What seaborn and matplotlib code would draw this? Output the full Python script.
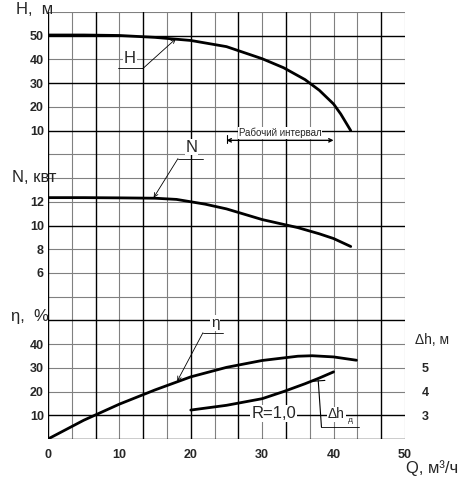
import seaborn as sns
import matplotlib.pyplot as plt

sns.set_theme(style="white")
plt.rcParams['font.family'] = ['Liberation Sans', 'DejaVu Sans']

# head H(Q), m
q_h = [0, 5, 10, 15, 20, 25, 30, 33, 36, 38, 40, 41, 42.4]
head = [50.3, 50.3, 50.1, 49.3, 48.0, 45.4, 40.3, 36.5, 31.5, 27.0, 21.2, 17.0, 10.0]

# power N(Q), kW
q_n = [0, 5, 10, 15, 18, 20, 22, 25, 30, 35, 38, 40, 42.4]
power = [12.35, 12.35, 12.33, 12.3, 12.2, 12.0, 11.8, 11.4, 10.5, 9.82, 9.3, 8.9, 8.23]

# efficiency, %
q_eta = [0, 5, 10, 15, 20, 25, 30, 35, 37, 40, 43.2]
eta = [0, 7.9, 14.7, 20.7, 26.2, 30.2, 33.1, 34.9, 35.1, 34.6, 33.2]

# NPSH dh, m
q_dh = [20, 25, 30, 33, 36, 38, 40]
dh = [3.22, 3.42, 3.7, 4.0, 4.33, 4.57, 4.83]

q_ticks = [0, 10, 20, 30, 40, 50]
h_ticks = [10, 20, 30, 40, 50]
n_ticks = [6, 8, 10, 12]
eta_ticks = [10, 20, 30, 40]
dh_ticks = [3, 4, 5]

W, H = 466, 482
fig = plt.figure(figsize=(W / 100, H / 100), dpi=100)
ax = fig.add_axes([48 / W, 1 - 439 / H, 357 / W, 427 / H])
ax_n = ax.twinx()
ax_eta = ax.twinx()
ax_dh = ax.twinx()

ax.set_xlim(0, 50)
ax.set_ylim(-120, 60)
ax_n.set_ylim(-8, 28)
ax_eta.set_ylim(0, 180)
ax_dh.set_ylim(2, 20)

# square grid 15 x 18 cells, some lines darker
thick_h = {1, 3, 5, 9, 13, 17, 18}
for i in range(19):
    if i in thick_h:
        ax.axhline(60 - 10 * i, color="black", lw=1.0, zorder=0.5)
    else:
        ax.axhline(60 - 10 * i, color="#808080", lw=0.8, zorder=0.4)
thick_v = {0, 2, 4, 6, 8, 10, 14}
for k in range(16):
    if k in thick_v:
        ax.axvline(10 * k / 3, color="black", lw=1.0, zorder=0.5)
    else:
        ax.axvline(10 * k / 3, color="#808080", lw=0.8, zorder=0.4)

for a in [ax, ax_n, ax_eta, ax_dh]:
    for s in a.spines.values():
        s.set_visible(False)
    a.grid(False)

# curves
sns.lineplot(x=q_h, y=head, ax=ax, color="black", lw=2, estimator=None, sort=False)
sns.lineplot(x=q_n, y=power, ax=ax_n, color="black", lw=2, estimator=None, sort=False)
sns.lineplot(x=q_eta, y=eta, ax=ax_eta, color="black", lw=2, estimator=None, sort=False)
sns.lineplot(x=q_dh, y=dh, ax=ax_dh, color="black", lw=2, estimator=None, sort=False)

# ticks
ax.set_xticks(q_ticks)
ax.tick_params(axis="x", length=0, pad=7, labelsize=9)
ax.set_yticks(h_ticks)
ax.tick_params(axis="y", length=0, pad=3, labelsize=9)
for a, t in [(ax_n, n_ticks), (ax_eta, eta_ticks)]:
    a.yaxis.tick_left()
    a.set_yticks(t)
    a.tick_params(axis="y", length=0, pad=3, labelsize=9)
ax_dh.set_yticks(dh_ticks)
ax_dh.tick_params(axis="y", length=0, pad=12, labelsize=9)
for a in [ax, ax_n, ax_eta, ax_dh]:
    for lbl in a.get_xticklabels() + a.get_yticklabels():
        lbl.set_fontweight("bold")
ax.set_xlabel("")
for a in [ax, ax_n, ax_eta, ax_dh]:
    a.set_ylabel("")

# axis titles
def ftext(x, y, s, size):
    fig.text(x / W, 1 - y / H, s, fontsize=size, ha="center", va="center")

ftext(35, 9, "H,  м", 12)
ftext(34, 177, "N, квт", 12)
ftext(30, 317, "η,  %", 12)
ftext(432, 468, "Q, м³/ч", 12)
ftext(432, 340, "Δh, м", 10)

box = dict(fc="white", ec="none", pad=0.5)
thin = dict(arrowstyle="->", lw=0.6, color="black", shrinkA=0, shrinkB=0, mutation_scale=7)

# curve labels with leaders
ax.text(11.5, 40.4, "H", fontsize=12, ha="center", va="center", bbox=box)
ax.plot([9.8, 13.3], [36.2, 36.2], color="black", lw=0.6)
ax.annotate("", xy=(17.9, 48.7), xytext=(13.3, 36.2), arrowprops=thin)

ax_n.text(20.1, 16.6, "N", fontsize=12, ha="center", va="center", bbox=box)
ax_n.plot([18.2, 21.7], [15.64, 15.64], color="black", lw=0.6)
ax_n.annotate("", xy=(14.8, 12.35), xytext=(18.2, 15.64), arrowprops=thin)

ax_eta.text(23.4, 48.8, "η", fontsize=11, ha="center", va="center", bbox=box)
ax_eta.plot([21.7, 24.5], [44.8, 44.8], color="black", lw=0.6)
ax_eta.annotate("", xy=(18.1, 24.4), xytext=(21.7, 44.8), arrowprops=thin)

ax_dh.text(40.4, 3.04, "Δh", fontsize=10, ha="center", va="center", bbox=box)
ax_dh.text(42.4, 2.8, "д", fontsize=6, ha="center", va="center")
ax_dh.plot([38.3, 43.5], [2.5, 2.5], color="black", lw=0.6)
ax_dh.annotate("", xy=(37.85, 4.45), xytext=(38.3, 2.5),
               arrowprops=dict(arrowstyle="-[, widthB=0.4, lengthB=0.0", lw=0.8,
                               color="black", shrinkA=0, shrinkB=0))

ax_dh.text(31.6, 3.07, "R=1,0", fontsize=12, ha="center", va="center",
           bbox=dict(fc="white", ec="none", pad=1))

# working interval
ax.text(32.5, 8.9, "Рабочий интервал", fontsize=7, ha="center", va="center", bbox=box)
ax.annotate("", xy=(25, 5.9), xytext=(40, 5.9),
            arrowprops=dict(arrowstyle="<->", lw=1, color="black", shrinkA=0, shrinkB=0,
                            mutation_scale=6))
ax.plot([25, 25], [8.0, 4.6], color="black", lw=0.8)

fig.savefig("out.png", dpi=100, facecolor="white")
